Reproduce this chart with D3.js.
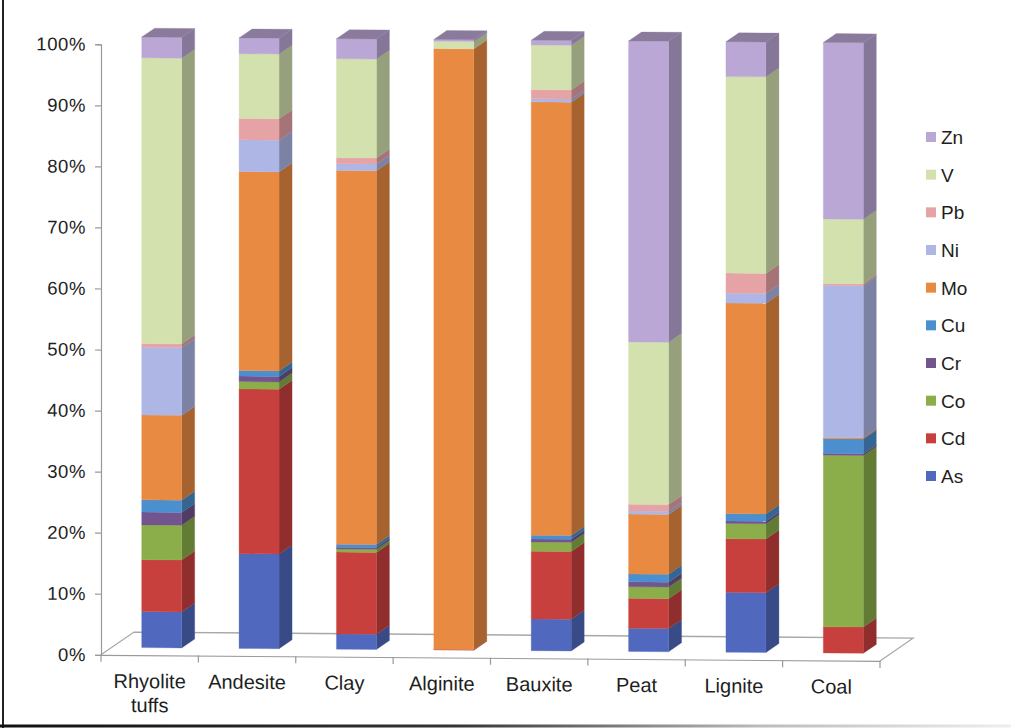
<!DOCTYPE html>
<html>
<head>
<meta charset="utf-8">
<script src="https://cdnjs.cloudflare.com/ajax/libs/d3/7.8.5/d3.min.js"></script>
<style>
  html, body { margin: 0; padding: 0; background: #ffffff; }
  svg { display: block; }
  text { font-family: Arial, "Liberation Sans", sans-serif; fill: #1e1e1e; }
</style>
</head>
<body>
<svg id="chart" width="1011" height="728"></svg>
<script>
// Rock / fuel types along the x axis
const categories = ["Rhyolite tuffs", "Andesite", "Clay", "Alginite", "Bauxite", "Peat", "Lignite", "Coal"];

// Elements, stacked bottom to top
const elements = ["As", "Cd", "Co", "Cr", "Cu", "Mo", "Ni", "Pb", "V", "Zn"];

// Share of each element per sample (%), one value per category
const As = [5.9, 15.5, 2.5, 0.0, 5.2, 3.8, 9.8, 0.0];
const Cd = [8.5, 27.0, 13.4, 0.1, 11.1, 4.9, 8.8, 4.3];
const Co = [5.7, 1.2, 0.5, 0.0, 1.5, 1.9, 2.5, 28.1];
const Cr = [2.1, 0.9, 0.3, 0.0, 0.5, 0.8, 0.4, 0.3];
const Cu = [2.0, 0.9, 0.5, 0.0, 0.6, 1.3, 1.2, 2.4];
const Mo = [13.9, 32.6, 61.2, 98.4, 71.0, 9.8, 34.5, 0.2];
const Ni = [11.1, 5.2, 1.1, 0.0, 0.5, 0.5, 1.6, 24.9];
const Pb = [0.6, 3.5, 1.0, 0.0, 1.5, 1.1, 3.3, 0.3];
const V  = [46.8, 10.6, 16.2, 1.2, 7.3, 26.6, 32.2, 10.6];
const Zn = [3.4, 2.6, 3.3, 0.3, 0.8, 49.3, 5.7, 28.9];

const yTicks = [0, 10, 20, 30, 40, 50, 60, 70, 80, 90, 100];

const seriesValues = { As, Cd, Co, Cr, Cu, Mo, Ni, Pb, V, Zn };

const colors = {
  As: "#5069be", Cd: "#c8403e", Co: "#8bae4a", Cr: "#72548f", Cu: "#4b8fce",
  Mo: "#e98a42", Ni: "#aeb6e6", Pb: "#e6a3a6", V: "#d3e1ae", Zn: "#bba7d5"
};

// Build the table d3.stack needs
const table = categories.map((c, i) => {
  const row = { category: c };
  elements.forEach(e => { row[e] = seriesValues[e][i]; });
  return row;
});
const stacked = d3.stack().keys(elements).offset(d3.stackOffsetExpand)(table);

const svg = d3.select("#chart");

// Frame lines around the figure
const defs = svg.append("defs");
const grad = defs.append("linearGradient").attr("id", "fadeLine");
grad.append("stop").attr("offset", "0%").attr("stop-color", "#111");
grad.append("stop").attr("offset", "45%").attr("stop-color", "#333");
grad.append("stop").attr("offset", "75%").attr("stop-color", "#bbb");
grad.append("stop").attr("offset", "100%").attr("stop-color", "#eee");
svg.append("line").attr("x1", 3).attr("x2", 3).attr("y1", 0).attr("y2", 728)
  .attr("stroke", "#222").attr("stroke-width", 2);
svg.append("rect").attr("x", 0).attr("y", 724.5).attr("width", 1011).attr("height", 3)
  .attr("fill", "url(#fadeLine)");

// Plot area, slightly sheared like the printed figure
const plot = svg.append("g").attr("transform", "skewY(0.45)");

const x = d3.scaleBand().domain(categories).range([101, 880]).padding(0);
const y = d3.scaleLinear().domain([0, 1]).range([654, 43.5]);

// 3-D geometry
const floorDx = 33, floorDy = -23;     // depth of the floor
const barDx = 13, barDy = -9;          // depth of each column
const barShiftX = 12, barShiftY = -7.5; // columns sit mid-way in the floor depth
const barW = 40;

// Floor
const x0 = x.range()[0], x1 = x.range()[1], yb = y(0);
plot.append("path")
  .attr("d", `M${x0},${yb} L${x0 + floorDx},${yb + floorDy} L${x1 + floorDx},${yb + floorDy} L${x1},${yb}`)
  .attr("fill", "none").attr("stroke", "#a8a8a8").attr("stroke-width", 1.3);

// Value axis
const yAxis = d3.axisLeft(y.copy().domain([0, 100]))
  .tickValues(yTicks).tickSize(6).tickPadding(9)
  .tickFormat(d => d + "%");
const ya = plot.append("g").attr("transform", `translate(${x0},0)`).call(yAxis);
ya.select(".domain").attr("stroke", "#999").attr("stroke-width", 1.2);
ya.selectAll(".tick line").attr("stroke", "#999").attr("stroke-width", 1.2);
ya.selectAll(".tick text").style("font-size", "18.5px").style("letter-spacing", "0.6px")
  .attr("fill", "#1e1e1e");

// Category axis along the front of the floor
const xa = plot.append("g").attr("transform", `translate(0,${yb})`)
  .call(d3.axisBottom(x).tickSize(0).tickFormat(""));
xa.select(".domain").attr("stroke", "#999").attr("stroke-width", 1.2);
const tickPos = d3.range(categories.length + 1).map(i => x0 + i * x.bandwidth());
plot.append("g").selectAll("line").data(tickPos).join("line")
  .attr("x1", d => d).attr("x2", d => d)
  .attr("y1", yb).attr("y2", yb + 7)
  .attr("stroke", "#999").attr("stroke-width", 1.2);

// Category labels (wrapped on spaces)
const labels = plot.append("g").selectAll("text").data(categories).join("text")
  .attr("x", d => x(d) + x.bandwidth() / 2)
  .attr("y", 687)
  .attr("text-anchor", "middle")
  .style("font-size", "20px");
labels.each(function(d) {
  const words = d.split(" ");
  d3.select(this).selectAll("tspan").data(words).join("tspan")
    .attr("x", x(d) + x.bandwidth() / 2)
    .attr("dy", (w, i) => i === 0 ? 0 : 24)
    .text(w => w);
});

// Columns
const bars = plot.append("g");
categories.forEach((cat, ci) => {
  const g = bars.append("g");
  const left = x(cat) + x.bandwidth() / 2 - barW / 2 + barShiftX;
  const right = left + barW;
  let topKey = null, topY = null;
  stacked.forEach(layer => {
    const seg = layer[ci];
    if (seg[1] - seg[0] <= 0) return;
    const key = layer.key;
    const c = d3.color(colors[key]);
    const yTop = y(seg[1]) + barShiftY;
    const yBot = y(seg[0]) + barShiftY;
    // side face
    g.append("path")
      .attr("d", `M${right},${yBot} L${right + barDx},${yBot + barDy} L${right + barDx},${yTop + barDy} L${right},${yTop} Z`)
      .attr("fill", c.darker(0.95).formatHex())
      .attr("stroke", c.darker(0.95).formatHex()).attr("stroke-width", 0.3);
    // front face
    g.append("rect")
      .attr("x", left).attr("y", yTop)
      .attr("width", barW).attr("height", yBot - yTop)
      .attr("fill", c.formatHex())
      .attr("stroke", c.formatHex()).attr("stroke-width", 0.3);
    topKey = key; topY = yTop;
  });
  // top face of the column
  const tc = d3.color(colors[topKey]).darker(0.85).formatHex();
  g.append("path")
    .attr("d", `M${left},${topY} L${left + barDx},${topY + barDy} L${right + barDx},${topY + barDy} L${right},${topY} Z`)
    .attr("fill", tc).attr("stroke", tc).attr("stroke-width", 0.3);
});

// Legend, top entry is the top of the stack
const legendItems = elements.slice().reverse();
const legend = svg.append("g");
const ly = d3.scalePoint().domain(legendItems).range([137, 476]);
legend.selectAll("rect").data(legendItems).join("rect")
  .attr("x", 926).attr("y", d => ly(d) - 5)
  .attr("width", 10).attr("height", 10)
  .attr("fill", d => colors[d]);
legend.selectAll("text").data(legendItems).join("text")
  .attr("x", 941).attr("y", d => ly(d))
  .attr("dy", "0.36em")
  .style("font-size", "19px")
  .text(d => d);
</script>
</body>
</html>
